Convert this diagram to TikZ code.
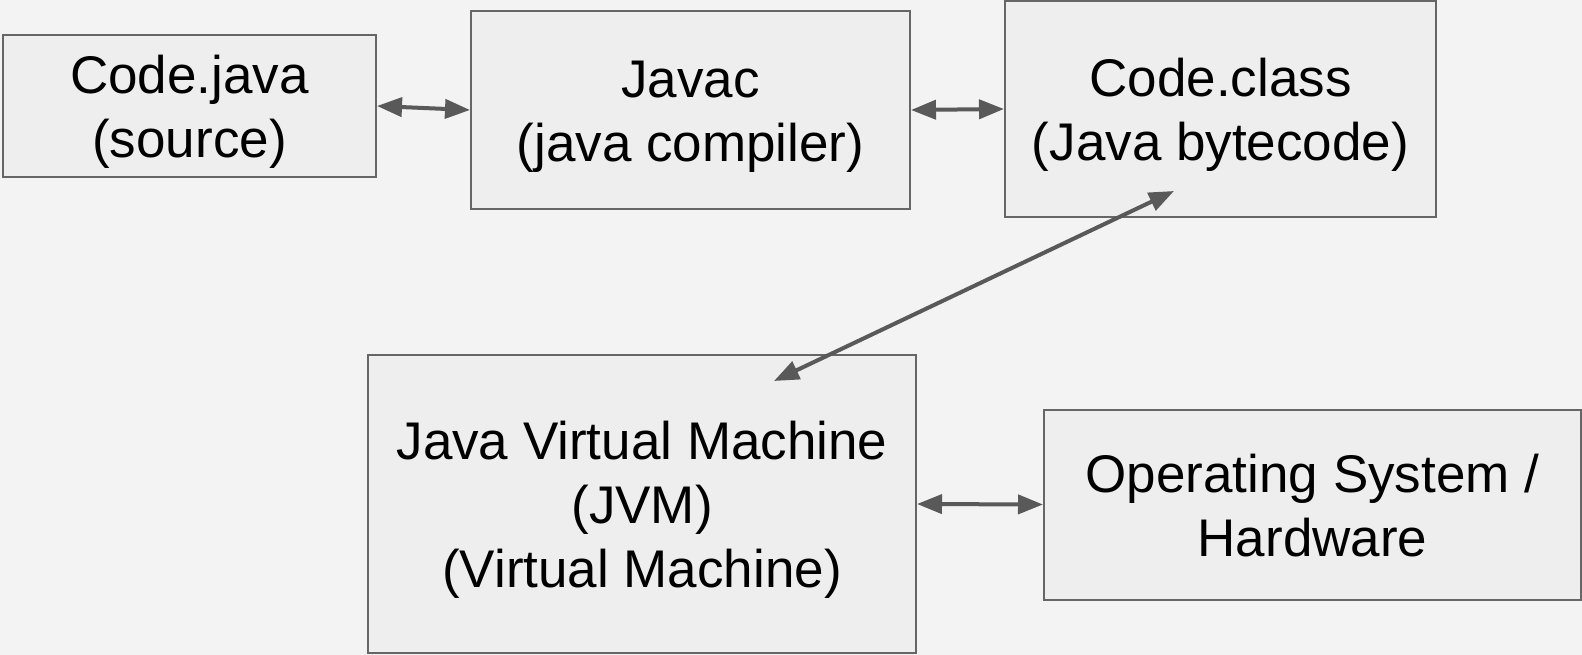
\documentclass[tikz,border=0pt]{standalone}
\usepackage{fontspec}
\setmainfont{Liberation Sans}
\usetikzlibrary{arrows.meta,calc}
\definecolor{bgc}{HTML}{F3F3F3}
\definecolor{boxfill}{HTML}{EEEEEE}
\definecolor{boxline}{HTML}{666666}
\definecolor{arrowc}{HTML}{595959}
% centred lines, set slightly below the middle of the box
\newcommand\stagetext[1]{\raisebox{-7pt}[\height][\depth]{%
  \begin{tabular}{@{}c@{}}#1\end{tabular}}}
\begin{document}
\begin{tikzpicture}[x=1pt,y=-1pt,
  stagebox/.style={draw=boxline,fill=boxfill,line width=2pt,inner sep=0pt,
    font=\fontsize{53}{64}\selectfont},
  link/.style={draw=arrowc,line width=4pt,
    {Triangle[length=25pt,width=19pt]}-{Triangle[length=25pt,width=19pt]}}]
  % canvas
  \fill[bgc] (0,0) rectangle (1582,655);
  \useasboundingbox (0,0) rectangle (1582,655);
  % stages
  \node[stagebox,minimum width=373pt,minimum height=142pt] (cj) at (189.5,106)
    {\stagetext{Code.java\\(source)}};
  \node[stagebox,minimum width=439pt,minimum height=198pt] (javac) at (690.5,110)
    {\stagetext{Javac\\(java compiler)}};
  \node[stagebox,minimum width=431pt,minimum height=216pt] (cc) at (1220.5,109)
    {\stagetext{Code.class\\(Java bytecode)}};
  \node[stagebox,minimum width=548pt,minimum height=298pt] (jvm) at (642,504)
    {\stagetext{Java Virtual Machine\\(JVM)\\(Virtual Machine)}};
  \node[stagebox,minimum width=537pt,minimum height=190pt] (os) at (1312.5,504.5)
    {\stagetext{Operating System /\\Hardware}};
  % ends of the diagonal link
  \coordinate (jvmin) at ($(jvm.north west)+(407,27)$);
  \coordinate (ccin) at ($(cc.north west)+(170,191)$);
  % links
  \draw[link] (cj.east) -- (javac.west);
  \draw[link] (javac.east) -- (cc.west);
  \draw[link] (jvmin) -- (ccin);
  \draw[link] (jvm.east) -- (os.west);
\end{tikzpicture}
\end{document}
